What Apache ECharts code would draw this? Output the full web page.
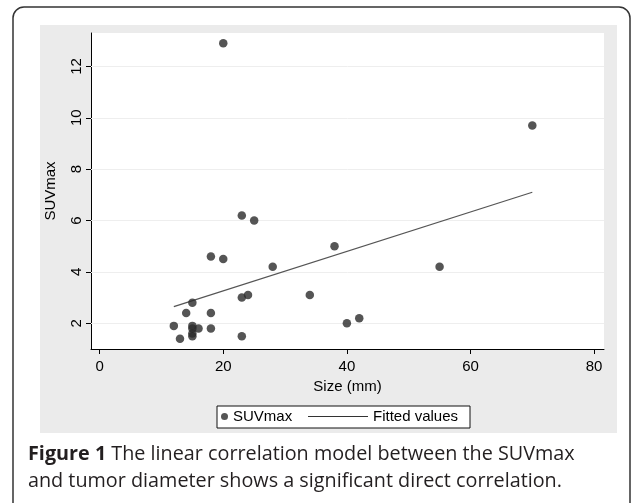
<!DOCTYPE html>
<html><head><meta charset="utf-8">
<script src="https://cdn.jsdelivr.net/npm/echarts@6/dist/echarts.min.js"></script>
<style>html,body{margin:0;padding:0;background:#fff}#c{width:633px;height:503px}</style>
</head><body><div id="c"></div>
<script>
// Data
const sizeMM = [12,13,14,15,15,15,15,15,16,18,18,18,20,20,23,24,23,23,25,28,34,38,40,42,55,70];
const suvMax = [1.9,1.4,2.4,2.8,1.9,1.8,1.6,1.5,1.8,1.8,2.4,4.6,4.5,12.9,3.0,3.1,1.5,6.2,6.0,4.2,3.1,5.0,2.0,2.2,4.2,9.7];
const fittedX = [12,70];
const fittedY = [2.65,7.1];
const xTicks = [0,20,40,60,80];
const yTicks = [2,4,6,8,10,12];

const chart = echarts.init(document.getElementById('c'), null, {renderer:'canvas'});
const tickFont = "'Liberation Sans Narrow', 'Liberation Sans', sans-serif";
const scatterData = sizeMM.map((x,i)=>[x,suvMax[i]]);
const lineData = fittedX.map((x,i)=>[x,fittedY[i]]);
const txt = {fontFamily:tickFont, fontSize:15, color:'#000'};

chart.setOption({
  backgroundColor:'#fff',
  animation:false,
  graphic:[
    {type:'rect', z:-10, shape:{x:13,y:7,width:617,height:520,r:11}, style:{fill:'#fff',stroke:'#333',lineWidth:1.5}},
    {type:'rect', z:-9, shape:{x:40,y:25,width:577,height:408}, style:{fill:'#ebebeb'}},
    {type:'rect', z:-5, shape:{x:217,y:406,width:253,height:22}, style:{fill:'#fff',stroke:'#111',lineWidth:1}},
    {type:'text', z:6, left:28, top:441, style:{
      text:'{b|Figure 1} The linear correlation model between the SUVmax\nand tumor diameter shows a significant direct correlation.',
      fill:'#231f20', font:"19.8px Open Sans", lineHeight:27,
      rich:{b:{fontWeight:'bold', fontSize:19.8, fontFamily:'Open Sans', fill:'#231f20'}}
    }}
  ],
  grid:{left:91, top:33, right:29, bottom:154, show:true, backgroundColor:'#fff', borderWidth:0, containLabel:false, outerBoundsMode:'none'},
  legend:[
    {data:['SUVmax'], left:221, top:409, itemWidth:7, itemHeight:7, itemTextGap:9, padding:0, z:10,
     textStyle:txt},
    {data:['Fitted values'], left:308, top:409, itemWidth:60, itemHeight:1, itemTextGap:9, padding:0, icon:'rect', z:10,
     textStyle:txt}
  ],
  xAxis:{type:'value', min:-1.4, max:81.6, name:'Size (mm)', nameLocation:'middle', nameGap:26,
    nameTextStyle:txt,
    axisLine:{show:true, onZero:false, lineStyle:{color:'#000', width:1}},
    axisTick:{show:true, length:5, customValues:xTicks, lineStyle:{color:'#000'}},
    axisLabel:{customValues:xTicks, margin:10, fontFamily:tickFont, fontSize:15, color:'#000'},
    splitLine:{show:false}},
  yAxis:{type:'value', min:1.0, max:13.3, name:'SUVmax', nameLocation:'middle', nameGap:33, nameRotate:90,
    nameTextStyle:txt,
    axisLine:{show:true, onZero:false, lineStyle:{color:'#000', width:1}},
    axisTick:{show:true, length:5, customValues:yTicks, lineStyle:{color:'#000'}},
    axisLabel:{customValues:yTicks, rotate:90, margin:7, fontFamily:tickFont, fontSize:15, color:'#000'},
    splitLine:{show:false}},
  series:[
    {name:'SUVmax', type:'scatter', data:scatterData, symbol:'circle', symbolSize:8.5,
     itemStyle:{color:'#2b2b2b'}, z:3,
     markLine:{silent:true, symbol:'none', label:{show:false}, z:1,
       lineStyle:{color:'#eeeeee', width:1, type:'solid'},
       data:yTicks.map(v=>({yAxis:v}))}},
    {name:'Fitted values', type:'line', data:lineData, showSymbol:false, symbol:'none',
     lineStyle:{color:'#555', width:1.2}, itemStyle:{color:'#333'}, z:2}
  ]
});
</script></body></html>
